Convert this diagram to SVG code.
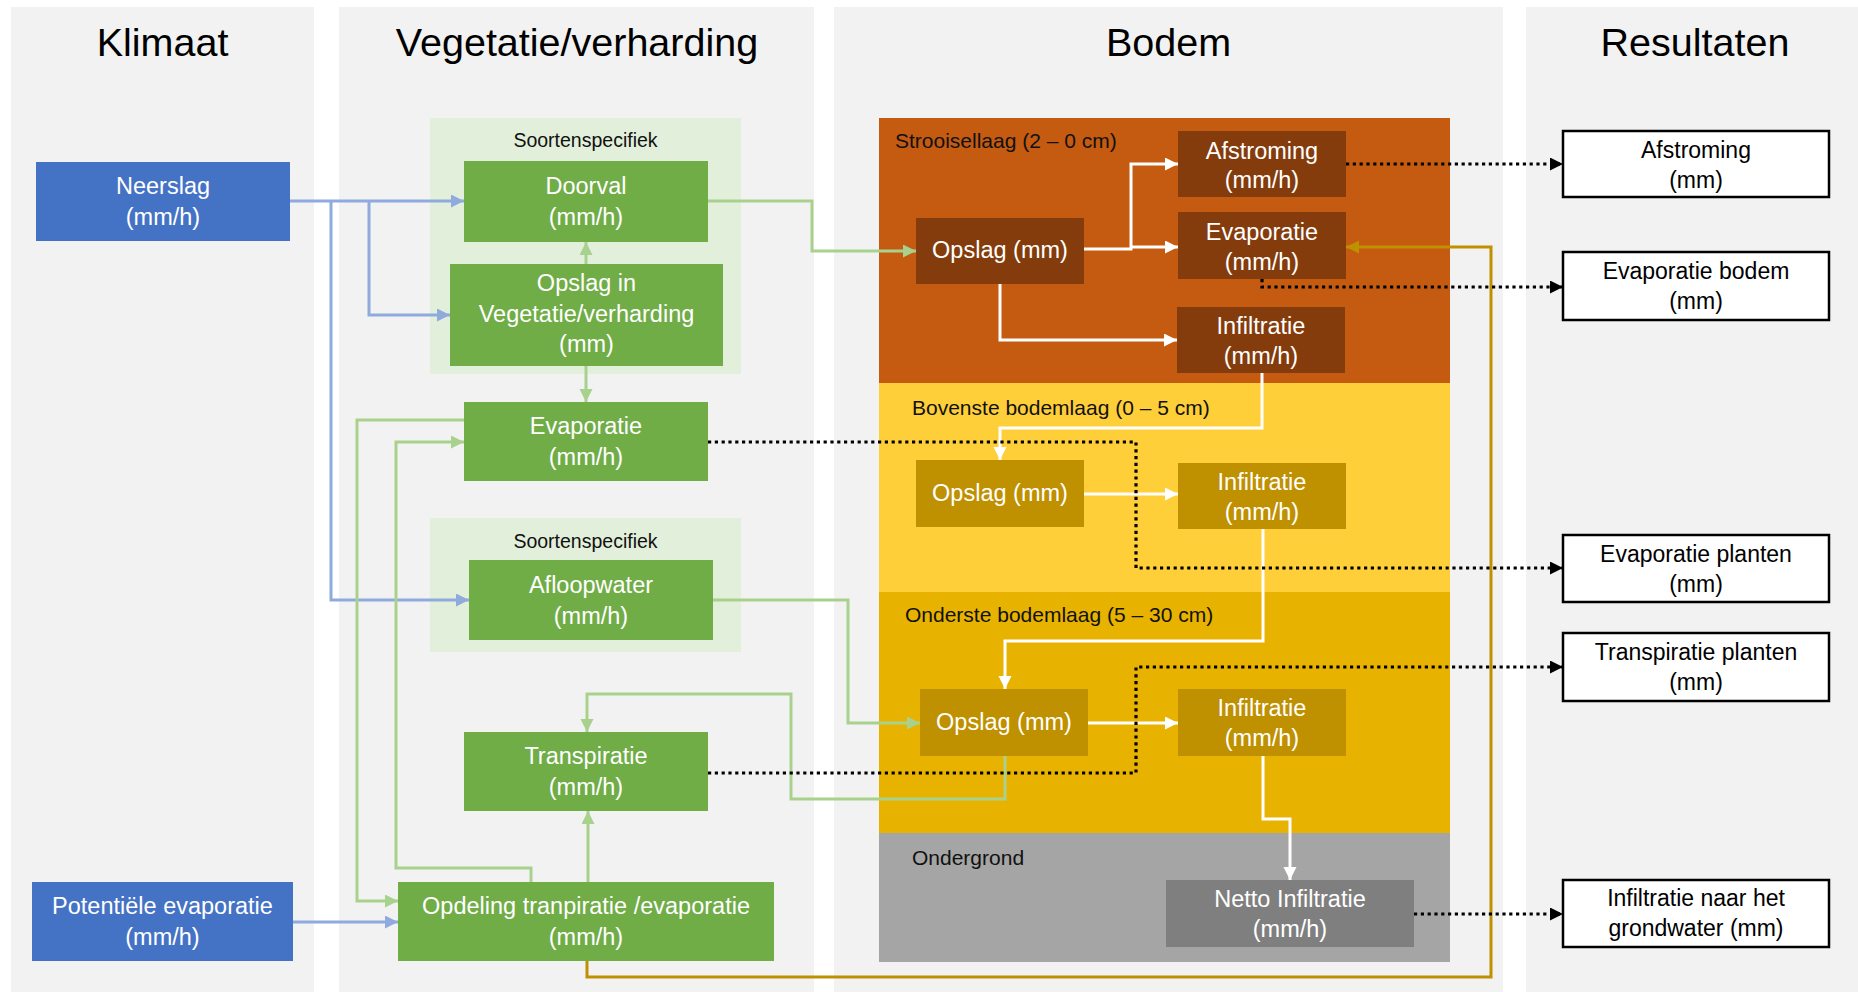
<svg xmlns="http://www.w3.org/2000/svg" width="1858" height="992" viewBox="0 0 1858 992">
<style>
text{font-family:"Liberation Sans",Arial,sans-serif}
.title{font-size:39.5px;fill:#000;text-anchor:middle}
.nt{font-size:23.5px;fill:#fff;text-anchor:middle}
.rt{font-size:23px;fill:#000;text-anchor:middle}
.lbl{font-size:21px;fill:#111}
.ss{font-size:19.5px;fill:#111;text-anchor:middle}
.panel{fill:#F2F2F2}
.blue{fill:#4472C4}
.green{fill:#70AD47}
.dstr{fill:#843C0C}
.dgold{fill:#BF9000}
.grey{fill:#7F7F7F}
.res{fill:#fff;stroke:#000;stroke-width:2.5}
.cb{fill:none;stroke:#8FAADC;stroke-width:3}
.cg{fill:none;stroke:#A9D18E;stroke-width:3}
.cy{fill:none;stroke:#BF9000;stroke-width:3}
.cw{fill:none;stroke:#fff;stroke-width:3}
.cd{fill:none;stroke:#000;stroke-width:3.2;stroke-dasharray:3.2 3.6}
</style>
<defs>
<marker id="ab" markerUnits="userSpaceOnUse" markerWidth="14" markerHeight="14" refX="13" refY="6.5" orient="auto"><path d="M0,0 L13,6.5 L0,13 z" fill="#8FAADC"/></marker>
<marker id="ag" markerUnits="userSpaceOnUse" markerWidth="14" markerHeight="14" refX="13" refY="6.5" orient="auto"><path d="M0,0 L13,6.5 L0,13 z" fill="#A9D18E"/></marker>
<marker id="ay" markerUnits="userSpaceOnUse" markerWidth="14" markerHeight="14" refX="13" refY="6.5" orient="auto"><path d="M0,0 L13,6.5 L0,13 z" fill="#BF9000"/></marker>
<marker id="aw" markerUnits="userSpaceOnUse" markerWidth="14" markerHeight="14" refX="13" refY="6.5" orient="auto"><path d="M0,0 L13,6.5 L0,13 z" fill="#fff"/></marker>
<marker id="ak" markerUnits="userSpaceOnUse" markerWidth="14" markerHeight="14" refX="13" refY="6.5" orient="auto"><path d="M0,0 L13,6.5 L0,13 z" fill="#000"/></marker>
</defs>
<rect width="1858" height="992" fill="#fff"/>
<!-- column panels -->
<rect class="panel" x="11" y="7" width="303" height="985"/>
<rect class="panel" x="339" y="7" width="475" height="985"/>
<rect class="panel" x="834" y="7" width="669" height="985"/>
<rect class="panel" x="1526" y="7" width="332" height="985"/>
<text class="title" x="162.5" y="56">Klimaat</text>
<text class="title" x="577" y="56">Vegetatie/verharding</text>
<text class="title" x="1168.5" y="56">Bodem</text>
<text class="title" x="1695" y="56">Resultaten</text>
<!-- grouping backgrounds -->
<rect x="430" y="118" width="311" height="256" fill="#E2EFDA"/>
<text class="ss" x="585.5" y="147">Soortenspecifiek</text>
<rect x="430" y="518" width="311" height="134" fill="#E2EFDA"/>
<text class="ss" x="585.5" y="548">Soortenspecifiek</text>
<!-- soil layers -->
<rect x="879" y="118" width="571" height="265" fill="#C55A11"/>
<rect x="879" y="383" width="571" height="209" fill="#FFCF3A"/>
<rect x="879" y="592" width="571" height="241" fill="#E8B200"/>
<rect x="879" y="833" width="571" height="129" fill="#A5A5A5"/>
<text class="lbl" x="895" y="148">Strooisellaag (2 – 0 cm)</text>
<text class="lbl" x="912" y="415">Bovenste bodemlaag (0 – 5 cm)</text>
<text class="lbl" x="905" y="622">Onderste bodemlaag (5 – 30 cm)</text>
<text class="lbl" x="912" y="865">Ondergrond</text>
<!-- connectors -->
<g id="connectors">
<path class="cb" d="M290,201 H464" marker-end="url(#ab)"/>
<path class="cb" d="M369,201 V315 H450" marker-end="url(#ab)"/>
<path class="cb" d="M331,201 V600 H469" marker-end="url(#ab)"/>
<path class="cb" d="M293,922 H398" marker-end="url(#ab)"/>
<path class="cg" d="M586,264 V242" marker-end="url(#ag)"/>
<path class="cg" d="M586,366 V402" marker-end="url(#ag)"/>
<path class="cg" d="M464,420 H357 V901 H398" marker-end="url(#ag)"/>
<path class="cg" d="M531,882 V868 H396 V442 H464" marker-end="url(#ag)"/>
<path class="cg" d="M588,882 V811" marker-end="url(#ag)"/>
<path class="cg" d="M1005,756 V799 H791 V694 H587 V732" marker-end="url(#ag)"/>
<path class="cg" d="M708,201 H812 V251 H916" marker-end="url(#ag)"/>
<path class="cg" d="M713,600 H848 V723 H920" marker-end="url(#ag)"/>
<path class="cy" d="M587,961 V977 H1491 V247 H1346" marker-end="url(#ay)"/>
<path class="cw" d="M1084,249 H1131 V164 H1178" marker-end="url(#aw)"/>
<path class="cw" d="M1131,247 H1178" marker-end="url(#aw)"/>
<path class="cw" d="M1000,284 V340 H1177" marker-end="url(#aw)"/>
<path class="cw" d="M1262,373 V428 H1000 V460" marker-end="url(#aw)"/>
<path class="cw" d="M1084,494 H1178" marker-end="url(#aw)"/>
<path class="cw" d="M1263,529 V641 H1005 V689" marker-end="url(#aw)"/>
<path class="cw" d="M1088,723 H1178" marker-end="url(#aw)"/>
<path class="cw" d="M1263,756 V819 H1290 V880" marker-end="url(#aw)"/>
<path class="cd" d="M1346,164 H1563" marker-end="url(#ak)"/>
<path class="cd" d="M1262,279 V287 H1563" marker-end="url(#ak)"/>
<path class="cd" d="M708,442 H1136 V568 H1563" marker-end="url(#ak)"/>
<path class="cd" d="M708,773 H1136 V667 H1563" marker-end="url(#ak)"/>
<path class="cd" d="M1414,914 H1563" marker-end="url(#ak)"/>
</g>
<!-- climate nodes -->
<g id="neerslag"><rect class="blue" x="36" y="162" width="254" height="79"/><text class="nt" x="163" y="194">Neerslag</text><text class="nt" x="163" y="225">(mm/h)</text></g>
<g id="potentiele-evaporatie"><rect class="blue" x="32" y="882" width="261" height="79"/><text class="nt" x="162.5" y="914">Potentiële evaporatie</text><text class="nt" x="162.5" y="945">(mm/h)</text></g>
<!-- vegetation nodes -->
<g id="doorval"><rect class="green" x="464" y="161" width="244" height="81"/><text class="nt" x="586" y="194">Doorval</text><text class="nt" x="586" y="225">(mm/h)</text></g>
<g id="opslag-vegetatie"><rect class="green" x="450" y="264" width="273" height="102"/><text class="nt" x="586.5" y="291">Opslag in</text><text class="nt" x="586.5" y="322">Vegetatie/verharding</text><text class="nt" x="586.5" y="352">(mm)</text></g>
<g id="evaporatie-veg"><rect class="green" x="464" y="402" width="244" height="79"/><text class="nt" x="586" y="434">Evaporatie</text><text class="nt" x="586" y="465">(mm/h)</text></g>
<g id="afloopwater"><rect class="green" x="469" y="560" width="244" height="80"/><text class="nt" x="591" y="593">Afloopwater</text><text class="nt" x="591" y="624">(mm/h)</text></g>
<g id="transpiratie"><rect class="green" x="464" y="732" width="244" height="79"/><text class="nt" x="586" y="764">Transpiratie</text><text class="nt" x="586" y="795">(mm/h)</text></g>
<g id="opdeling"><rect class="green" x="398" y="882" width="376" height="79"/><text class="nt" x="586" y="914">Opdeling tranpiratie /evaporatie</text><text class="nt" x="586" y="945">(mm/h)</text></g>
<!-- soil nodes -->
<g id="afstroming"><rect class="dstr" x="1178" y="131" width="168" height="66"/><text class="nt" x="1262" y="159">Afstroming</text><text class="nt" x="1262" y="188">(mm/h)</text></g>
<g id="evaporatie-bodem"><rect class="dstr" x="1178" y="212" width="168" height="67"/><text class="nt" x="1262" y="240">Evaporatie</text><text class="nt" x="1262" y="270">(mm/h)</text></g>
<g id="opslag-strooisel"><rect class="dstr" x="916" y="218" width="168" height="66"/><text class="nt" x="1000" y="258">Opslag (mm)</text></g>
<g id="infiltratie-strooisel"><rect class="dstr" x="1177" y="307" width="168" height="66"/><text class="nt" x="1261" y="334">Infiltratie</text><text class="nt" x="1261" y="364">(mm/h)</text></g>
<g id="opslag-bovenste"><rect class="dgold" x="916" y="460" width="168" height="67"/><text class="nt" x="1000" y="501">Opslag (mm)</text></g>
<g id="infiltratie-bovenste"><rect class="dgold" x="1178" y="463" width="168" height="66"/><text class="nt" x="1262" y="490">Infiltratie</text><text class="nt" x="1262" y="520">(mm/h)</text></g>
<g id="opslag-onderste"><rect class="dgold" x="920" y="689" width="168" height="67"/><text class="nt" x="1004" y="730">Opslag (mm)</text></g>
<g id="infiltratie-onderste"><rect class="dgold" x="1178" y="689" width="168" height="67"/><text class="nt" x="1262" y="716">Infiltratie</text><text class="nt" x="1262" y="746">(mm/h)</text></g>
<g id="netto-infiltratie"><rect class="grey" x="1166" y="880" width="248" height="67"/><text class="nt" x="1290" y="907">Netto Infiltratie</text><text class="nt" x="1290" y="937">(mm/h)</text></g>
<!-- result nodes -->
<g id="res-afstroming"><rect class="res" x="1563" y="131" width="266" height="66"/><text class="rt" x="1696" y="158">Afstroming</text><text class="rt" x="1696" y="188">(mm)</text></g>
<g id="res-evaporatie-bodem"><rect class="res" x="1563" y="252" width="266" height="68"/><text class="rt" x="1696" y="279">Evaporatie bodem</text><text class="rt" x="1696" y="309">(mm)</text></g>
<g id="res-evaporatie-planten"><rect class="res" x="1563" y="535" width="266" height="67"/><text class="rt" x="1696" y="562">Evaporatie planten</text><text class="rt" x="1696" y="592">(mm)</text></g>
<g id="res-transpiratie-planten"><rect class="res" x="1563" y="633" width="266" height="68"/><text class="rt" x="1696" y="660">Transpiratie planten</text><text class="rt" x="1696" y="690">(mm)</text></g>
<g id="res-infiltratie"><rect class="res" x="1563" y="880" width="266" height="67"/><text class="rt" x="1696" y="906">Infiltratie naar het</text><text class="rt" x="1696" y="936">grondwater (mm)</text></g>
</svg>
